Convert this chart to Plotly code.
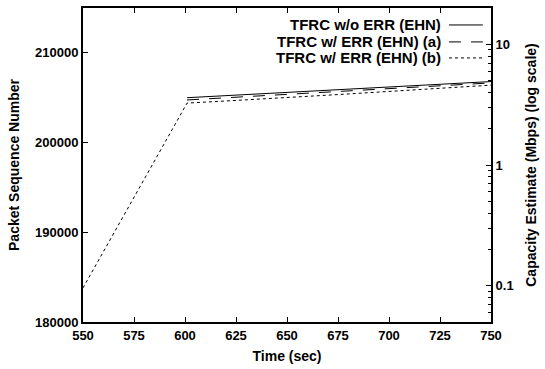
import plotly.graph_objects as go

# Data
time_wo = [601, 625, 650, 675, 700, 725, 750]
seq_wo = [205000, 205300, 205600, 205900, 206200, 206500, 206800]

time_a = [601, 625, 650, 675, 700, 725, 750]
seq_a = [204750, 205050, 205350, 205700, 206000, 206300, 206650]

time_b = [550, 601, 625, 650, 675, 700, 725, 750]
seq_b = [183800, 204400, 204700, 205000, 205350, 205700, 206050, 206400]

series_names = ["TFRC w/o ERR (EHN)", "TFRC w/ ERR (EHN) (a)", "TFRC w/ ERR (EHN) (b)"]
x_ticks = [550, 575, 600, 625, 650, 675, 700, 725, 750]
y_ticks = [180000, 190000, 200000, 210000]
y2_ticks = [0.1, 1, 10]

FONT = "Liberation Sans"
dashes = ["solid", "12px,10px", "3px,3px"]

fig = go.Figure()
for (tx, sy), name, d in zip([(time_wo, seq_wo), (time_a, seq_a), (time_b, seq_b)], series_names, dashes):
    fig.add_trace(go.Scatter(x=tx, y=sy, mode="lines", name=name,
                             line=dict(color="black", width=1, dash=d),
                             showlegend=False))

# Custom legend: right-aligned text with line sample on the right
rows_y = [0.946, 0.892, 0.841]
for name, d, yy in zip(series_names, dashes, rows_y):
    fig.add_annotation(x=0.882, y=yy, xref="paper", yref="paper", text="<b>%s</b>" % name,
                       showarrow=False, xanchor="right", yanchor="middle",
                       font=dict(family=FONT, size=15, color="black"))
    fig.add_shape(type="line", xref="paper", yref="paper", x0=0.897, x1=0.980, y0=yy, y1=yy,
                  line=dict(color="black", width=1, dash=d))

axis_font = dict(family=FONT, size=13, color="black")
title_font = dict(family=FONT, size=14, color="black")

fig.update_layout(
    width=545, height=369,
    margin=dict(l=83, r=54, t=8, b=47, autoexpand=False),
    plot_bgcolor="white", paper_bgcolor="white",
    xaxis=dict(range=[550, 750], tickvals=x_ticks, ticktext=["<b>%d</b>" % v for v in x_ticks],
               ticks="inside", ticklen=5, tickwidth=1, tickcolor="black",
               showline=True, linecolor="black", linewidth=2, mirror="ticks",
               showgrid=False, zeroline=False, tickfont=axis_font, automargin=False,
               title=dict(text="<b>Time (sec)</b>", font=title_font, standoff=10)),
    yaxis=dict(range=[180000, 215000], tickvals=y_ticks, ticktext=["<b>%d</b>" % v for v in y_ticks],
               ticks="inside", ticklen=5, tickwidth=1, tickcolor="black",
               showline=True, linecolor="black", linewidth=2, automargin=False,
               showgrid=False, zeroline=False, tickfont=axis_font,
               title=dict(text="<b>Packet Sequence Number</b>", font=title_font, standoff=12)),
    yaxis2=dict(type="log", overlaying="y", side="right", range=[-1.301, 1.301],
                tickvals=y2_ticks, ticktext=["<b>0.1</b>", "<b>1</b>", "<b>10</b>"],
                ticks="inside", ticklen=5, tickwidth=1, tickcolor="black",
                minor=dict(ticks="inside", ticklen=3, tickcolor="black",
                           tickvals=[0.05, 0.06, 0.07, 0.08, 0.09, 0.2, 0.3, 0.4, 0.5, 0.6, 0.7, 0.8, 0.9,
                                     2, 3, 4, 5, 6, 7, 8, 9, 20]),
                showline=True, linecolor="black", linewidth=2, automargin=False,
                showgrid=False, zeroline=False, tickfont=axis_font,
                title=dict(text="<b>Capacity Estimate (Mbps) (log scale)</b>", font=title_font, standoff=14)),
)
fig.add_trace(go.Scatter(x=[None], y=[None], yaxis="y2", showlegend=False, hoverinfo="skip"))

fig.write_html("out.html", config={"displayModeBar": False},
               post_script="document.body.style.margin='0';")
